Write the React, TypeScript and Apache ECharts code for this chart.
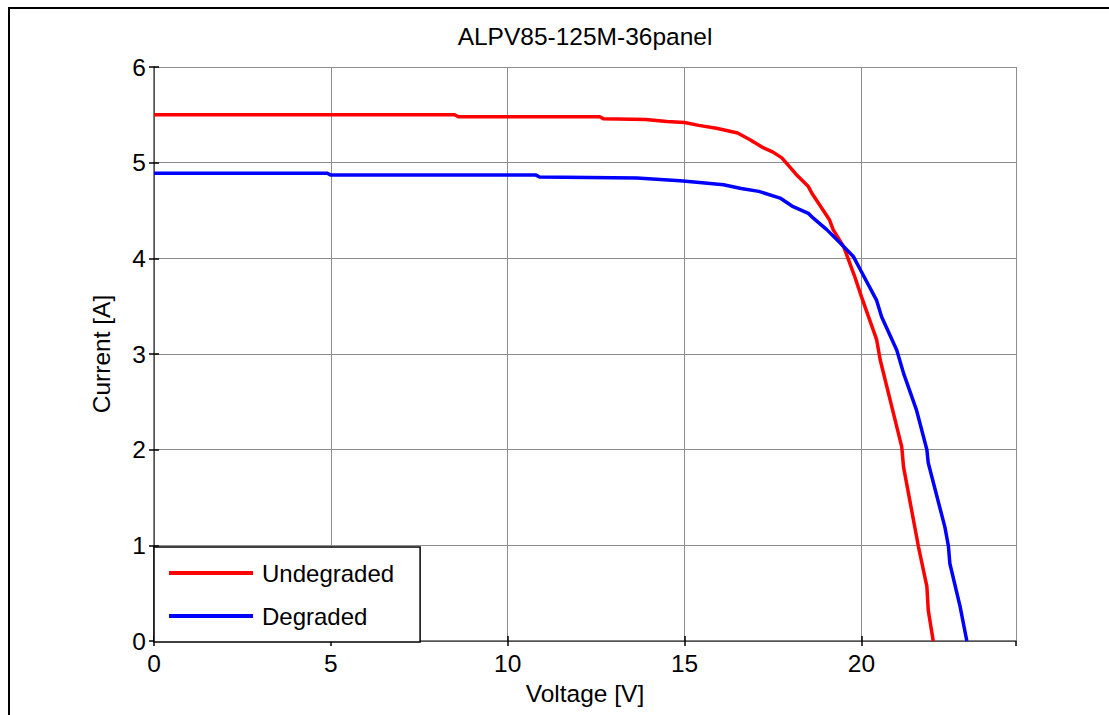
import React, { useEffect, useRef } from "react";
import * as echarts from "echarts";

const titleText = "ALPV85-125M-36panel";
const xName = "Voltage [V]";
const yName = "Current [A]";
const seriesNames = ["Undegraded", "Degraded"];

const undegradedV = [0, 8.5, 8.6, 12.6, 12.7, 13.9, 14.5, 15.0, 15.4, 15.9, 16.5, 16.85, 17.2, 17.5, 17.75, 18.15, 18.5, 18.6, 19.1, 19.2, 19.5, 19.8, 20.0, 20.43, 20.53, 21.14, 21.19, 21.61, 21.85, 21.89, 22.03];
const undegradedI = [5.5, 5.5, 5.48, 5.48, 5.46, 5.45, 5.43, 5.42, 5.39, 5.36, 5.31, 5.24, 5.16, 5.11, 5.05, 4.88, 4.75, 4.68, 4.4, 4.3, 4.12, 3.82, 3.6, 3.15, 2.94, 2.03, 1.82, 0.99, 0.57, 0.32, 0.0];

const degradedV = [0, 4.9, 5.0, 10.8, 10.9, 13.65, 14.87, 15.5, 16.1, 16.6, 17.1, 17.7, 18.07, 18.5, 18.64, 19.02, 19.4, 19.77, 20.0, 20.43, 20.57, 21.0, 21.19, 21.56, 21.85, 21.89, 22.36, 22.46, 22.5, 22.79, 22.98];
const degradedI = [4.89, 4.89, 4.87, 4.87, 4.85, 4.84, 4.81, 4.79, 4.77, 4.73, 4.7, 4.63, 4.54, 4.47, 4.42, 4.3, 4.16, 4.02, 3.86, 3.56, 3.39, 3.04, 2.8, 2.41, 2.0, 1.86, 1.19, 0.99, 0.81, 0.36, 0.0];

const xMin = 0;
const xMax = 24.37;
const xInterval = 5;
const yMin = 0;
const yMax = 6;
const yInterval = 1;

const FONT = "Arial, 'Liberation Sans', sans-serif";

export default function App() {
  const ref = useRef<HTMLDivElement>(null);
  useEffect(() => {
    if (!ref.current) return;
    const chart = echarts.init(ref.current, null, { renderer: "svg" });
    const pairs = (vs: number[], is: number[]) => vs.map((v, i) => [v, is[i]]);
    const gridColor = "#8c8c8c";
    const axisColor = "#555";
    const mirrorX = {
      type: "value",
      min: xMin,
      max: xMax,
      interval: xInterval,
      axisLine: { show: true, lineStyle: { color: axisColor, width: 1 } },
      axisTick: { show: true, inside: true, length: 5, lineStyle: { color: "#000", width: 1.5 } },
      axisLabel: { show: false },
      splitLine: { show: false },
    };
    const mirrorY = {
      type: "value",
      min: yMin,
      max: yMax,
      interval: yInterval,
      axisLine: { show: true, lineStyle: { color: axisColor, width: 1 } },
      axisTick: { show: true, inside: true, length: 5, lineStyle: { color: "#000", width: 1.5 } },
      axisLabel: { show: false },
      splitLine: { show: false },
    };
    chart.setOption({
      animation: false,
      backgroundColor: "#fff",
      title: {
        text: titleText,
        left: 580,
        textAlign: "center",
        top: 19,
        textStyle: { fontFamily: FONT, fontSize: 24.5, fontWeight: "normal", color: "#000" },
      },
      graphic: [
        {
          type: "rect",
          shape: { x: 9, y: 8, width: 1300, height: 900 },
          style: { fill: "none", stroke: "#000", lineWidth: 2 },
          silent: true,
        },
      ],
      grid: { left: 154, top: 67, right: 93, bottom: 74, containLabel: false },
      legend: {
        left: 154,
        top: 547,
        orient: "vertical",
        icon: "rect",
        itemWidth: 84,
        itemHeight: 4,
        itemGap: 19,
        padding: [14, 26, 14, 15],
        backgroundColor: "#fff",
        borderColor: "#000",
        borderWidth: 1.5,
        borderRadius: 0,
        data: seriesNames,
        textStyle: { fontFamily: FONT, fontSize: 24, color: "#000", padding: [0, 0, 0, 4] },
      },
      xAxis: [
        {
          type: "value",
          position: "bottom",
          min: xMin,
          max: xMax,
          interval: xInterval,
          name: xName,
          nameLocation: "middle",
          nameGap: 38,
          nameTextStyle: { fontFamily: FONT, fontSize: 24.5, color: "#000" },
          axisLine: { show: true, lineStyle: { color: axisColor, width: 1.5 } },
          axisTick: { show: true, inside: true, length: 5, lineStyle: { color: "#000", width: 1.5 } },
          axisLabel: {
            fontFamily: FONT,
            fontSize: 24.5,
            color: "#000",
            margin: 10,
            showMaxLabel: false,
            formatter: (v: number) => String(v),
          },
          splitLine: { show: true, lineStyle: { color: gridColor, width: 1 } },
        },
        { ...mirrorX, position: "top" },
      ],
      yAxis: [
        {
          type: "value",
          position: "left",
          min: yMin,
          max: yMax,
          interval: yInterval,
          name: yName,
          nameLocation: "middle",
          nameGap: 40,
          nameTextStyle: { fontFamily: FONT, fontSize: 24.5, color: "#000" },
          axisLine: { show: true, lineStyle: { color: axisColor, width: 1.5 } },
          axisTick: { show: true, inside: true, length: 5, lineStyle: { color: "#000", width: 1.5 } },
          axisLabel: { fontFamily: FONT, fontSize: 24.5, color: "#000", margin: 8 },
          splitLine: { show: true, lineStyle: { color: gridColor, width: 1 } },
        },
        { ...mirrorY, position: "right" },
      ],
      series: [
        {
          name: seriesNames[0],
          type: "line",
          xAxisIndex: 0,
          yAxisIndex: 0,
          data: pairs(undegradedV, undegradedI),
          symbol: "none",
          color: "#ff0000",
          lineStyle: { color: "#ff0000", width: 3.5 },
          z: 3,
        },
        {
          name: seriesNames[1],
          type: "line",
          xAxisIndex: 0,
          yAxisIndex: 0,
          data: pairs(degradedV, degradedI),
          symbol: "none",
          color: "#0000ff",
          lineStyle: { color: "#0000ff", width: 3.5 },
          z: 3,
        },
      ],
    });
    return () => chart.dispose();
  }, []);
  return (
    <div
      ref={ref}
      style={{ position: "fixed", left: 0, top: 0, width: 1109, height: 715 }}
    />
  );
}
